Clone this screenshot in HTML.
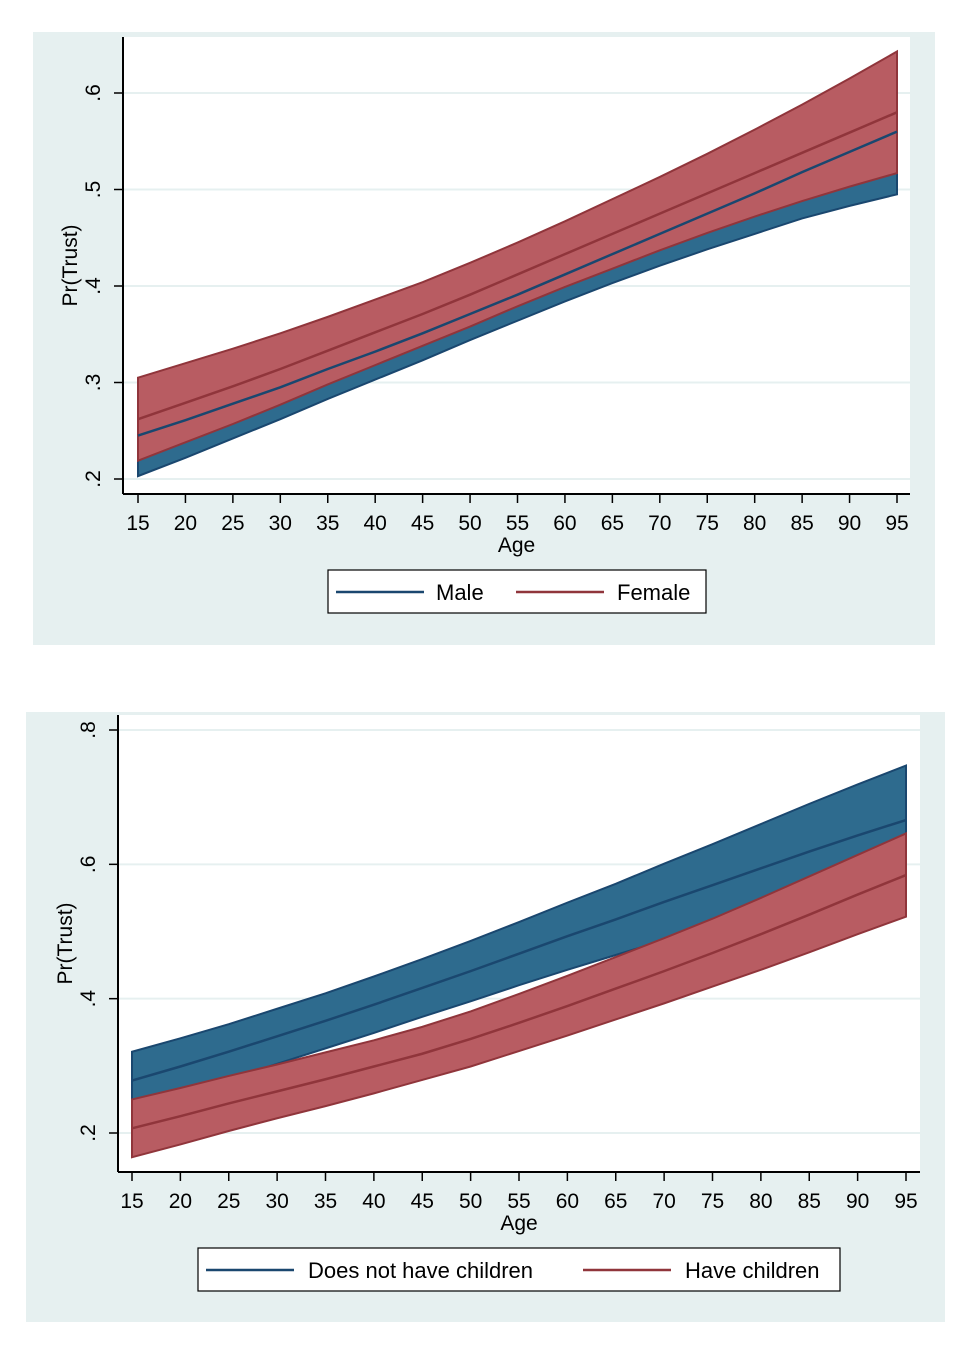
<!DOCTYPE html>
<html><head><meta charset="utf-8"><style>
body{margin:0;background:#fff;width:977px;height:1345px;overflow:hidden}
svg text{font-family:"Liberation Sans",Arial,sans-serif;fill:#000}
</style></head><body>
<svg id="s" width="977" height="1345"></svg>
<script>
const ages=[15,20,25,30,35,40,45,50,55,60,65,70,75,80,85,90,95];
const maleMean=[.245,.261,.278,.295,.314,.332,.351,.371,.391,.412,.433,.454,.475,.496,.518,.539,.560];
const maleLo=[.203,.222,.242,.262,.283,.303,.323,.344,.364,.384,.403,.421,.438,.454,.470,.483,.495];
const maleHi=[.287,.300,.314,.328,.345,.361,.379,.398,.418,.440,.463,.487,.512,.538,.566,.595,.625];
const femMean=[.262,.279,.296,.314,.333,.352,.371,.391,.412,.433,.454,.475,.496,.517,.538,.559,.580];
const femLo=[.219,.238,.257,.277,.298,.318,.338,.358,.379,.399,.418,.437,.455,.472,.488,.503,.517];
const femHi=[.305,.320,.335,.351,.368,.386,.404,.424,.445,.467,.490,.513,.537,.562,.588,.615,.643];
const noKidMean=[.278,.299,.321,.344,.367,.391,.416,.441,.467,.493,.518,.544,.569,.594,.619,.643,.666];
const noKidLo=[.235,.257,.280,.303,.326,.349,.373,.396,.420,.443,.465,.487,.508,.528,.548,.567,.585];
const noKidHi=[.321,.341,.362,.385,.408,.433,.459,.486,.514,.543,.571,.601,.630,.660,.690,.719,.747];
const kidMean=[.207,.225,.244,.262,.280,.299,.318,.340,.364,.389,.415,.441,.468,.496,.525,.555,.584];
const kidLo=[.164,.183,.203,.222,.240,.259,.279,.299,.322,.345,.369,.393,.418,.443,.469,.496,.522];
const kidHi=[.250,.267,.285,.302,.320,.338,.358,.381,.407,.434,.462,.490,.519,.550,.582,.614,.646];
const topYTicks=[.2,.3,.4,.5,.6];
const topYLabels=[".2",".3",".4",".5",".6"];
const botYTicks=[.2,.4,.6,.8];
const botYLabels=[".2",".4",".6",".8"];
const xTicks=[15,20,25,30,35,40,45,50,55,60,65,70,75,80,85,90,95];

const NS="http://www.w3.org/2000/svg",S=document.getElementById('s');
function el(t,a,p){const e=document.createElementNS(NS,t);for(const k in a)e.setAttribute(k,a[k]);(p||S).appendChild(e);return e;}
const BLUE="#1a476f",BLUEF="#2e6b8e",RED="#90353b",REDF="#b85c62";

function chart(c){
  const g=el('g',{});
  
  
  const bg=el('rect',{x:c.px,y:c.py,width:c.pw,height:c.ph,fill:'#e6f0f0'},g);
  
  el('rect',{x:c.x0,y:c.yTop,width:c.x1-c.x0,height:c.yAxis-c.yTop,fill:'#fff'},g);
  const X=a=>c.xa+(a-15)*(c.xb-c.xa)/80;
  const Y=v=>c.ya+(v-c.va)*(c.yb-c.ya)/(c.vb-c.va);
  c.yt.forEach((v,i)=>{
    const gl=el('line',{x1:c.x0,x2:c.x1,y1:Y(v),y2:Y(v),stroke:'#e6f0f0','stroke-width':2},g);
    
    el('line',{x1:c.x0-9,x2:c.x0,y1:Y(v),y2:Y(v),stroke:'#000','stroke-width':1.5},g);
    const t=el('text',{x:0,y:0,'font-size':21,'text-anchor':'middle',transform:`translate(${c.x0-23},${Y(v)}) rotate(-90)`},g);
    t.textContent=c.yl[i];
    
  });
  function band(lo,hi,fill,stroke,nm){
    let d='M'+ages.map((a,i)=>X(a)+','+Y(hi[i])).join('L')+'L'+ages.slice().reverse().map((a,j)=>X(a)+','+Y(lo[lo.length-1-j])).join('L')+'Z';
    const p=el('path',{d,fill,stroke,'stroke-width':2},g);
    
  }
  function line(m,stroke,nm){
    const p=el('polyline',{points:ages.map((a,i)=>X(a)+','+Y(m[i])).join(' '),fill:'none',stroke,'stroke-width':2.5},g);
    
  }
  band(c.s1[1],c.s1[2],BLUEF,BLUE,'ci-band-'+c.n1);
  band(c.s2[1],c.s2[2],REDF,RED,'ci-band-'+c.n2);
  line(c.s2[0],RED,'line-'+c.n2);
  line(c.s1[0],BLUE,'line-'+c.n1);
  el('line',{x1:c.x0,x2:c.x0,y1:c.yTop,y2:c.yAxis,stroke:'#000','stroke-width':2},g);
  el('line',{x1:c.x0,x2:c.x1,y1:c.yAxis,y2:c.yAxis,stroke:'#000','stroke-width':2},g);
  xTicks.forEach(a=>{
    el('line',{x1:X(a),x2:X(a),y1:c.yAxis,y2:c.yAxis+9,stroke:'#000','stroke-width':1.5},g);
    const t=el('text',{x:X(a),y:c.yAxis+36,'font-size':21,'text-anchor':'middle'},g);
    t.textContent=a;
    
  });
  const xt=el('text',{x:(c.x0+c.x1)/2,y:c.yAxis+58,'font-size':21,'text-anchor':'middle'},g);
  xt.textContent='Age';
  const yt=el('text',{x:0,y:0,'font-size':21,'text-anchor':'middle',transform:`translate(${c.x0-46},${(c.yTop+c.yAxis)/2}) rotate(-90)`},g);
  yt.textContent='Pr(Trust)';
  const L=c.leg;
  const lg=el('g',{},g);
  
  el('rect',{x:L.x,y:L.y,width:L.w,height:43,fill:'#fff',stroke:'#000','stroke-width':1.2},lg);
  [[L.l1,L.t1,BLUE,c.lab1],[L.l2,L.t2,RED,c.lab2]].forEach(([lx,tx,col,lab])=>{
    el('line',{x1:lx,x2:lx+88,y1:L.y+22,y2:L.y+22,stroke:col,'stroke-width':2.5},lg);
    const t=el('text',{x:tx,y:L.y+30,'font-size':22},lg);t.textContent=lab;
    
  });
}
chart({name:'chart-gender',px:33,py:32,pw:902,ph:613,x0:123,x1:910,yTop:37,yAxis:494,
 xa:138,xb:897,ya:479,yb:93,va:.2,vb:.6,yt:topYTicks,yl:topYLabels,
 s1:[maleMean,maleLo,maleHi],s2:[femMean,femLo,femHi],n1:'male',n2:'female',lab1:'Male',lab2:'Female',
 leg:{x:328,y:570,w:378,l1:336,t1:436,l2:516,t2:617}});
chart({name:'chart-children',px:26,py:712,pw:919,ph:610,x0:118,x1:920,yTop:715,yAxis:1172,
 xa:132,xb:906,ya:1133,yb:730,va:.2,vb:.8,yt:botYTicks,yl:botYLabels,
 s1:[noKidMean,noKidLo,noKidHi],s2:[kidMean,kidLo,kidHi],n1:'no-children',n2:'have-children',lab1:'Does not have children',lab2:'Have children',
 leg:{x:198,y:1248,w:642,l1:206,t1:308,l2:583,t2:685}});
</script>
</body></html>
